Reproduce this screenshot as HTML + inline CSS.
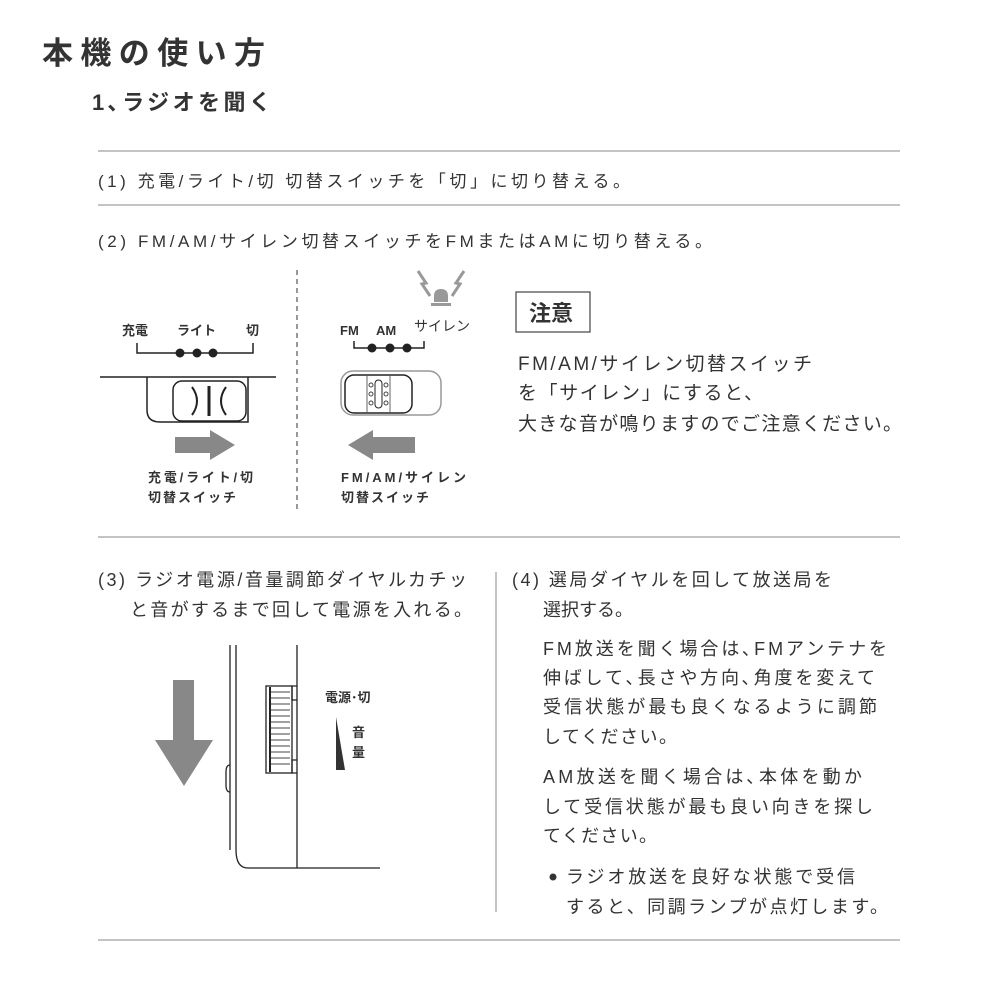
<!DOCTYPE html>
<html><head><meta charset="utf-8"><style>
html,body{margin:0;padding:0;background:#fff;}
svg{display:block;}
text{font-family:"Liberation Sans","Noto Sans CJK JP",sans-serif;fill:#333;}
</style></head><body>
<svg width="1000" height="1000" viewBox="0 0 1000 1000" xmlns="http://www.w3.org/2000/svg">
<text x="42" y="64" font-size="31" font-weight="bold" textLength="223" fill="#222">本機の使い方</text>
<text x="92" y="110" font-size="22" font-weight="bold" textLength="179" fill="#222">1､ラジオを聞く</text>
<g stroke="#888" stroke-width="1">
<line x1="98" y1="151" x2="900" y2="151"/>
<line x1="98" y1="205" x2="900" y2="205"/>
<line x1="98" y1="537" x2="900" y2="537"/>
<line x1="98" y1="940" x2="900" y2="940"/>
<line x1="496" y1="572" x2="496" y2="912"/>
</g>
<line x1="297" y1="270" x2="297" y2="512" stroke="#777" stroke-width="1.5" stroke-dasharray="5,4"/>
<g font-size="17">
<text x="98" y="187" textLength="532">(1) 充電/ライト/切  切替スイッチを「切」に切り替える。</text>
<text x="98" y="247" textLength="614">(2) FM/AM/サイレン切替スイッチをFMまたはAMに切り替える。</text>
</g>
<g font-size="13" font-weight="bold" fill="#222">
<text x="122" y="335">充電</text><text x="177" y="335">ライト</text><text x="246" y="335">切</text>
<text x="148" y="482" textLength="105">充電/ライト/切</text>
<text x="148" y="502" textLength="88">切替スイッチ</text>
<text x="340" y="335">FM</text><text x="376" y="335">AM</text>
<text x="341" y="482" textLength="125">FM/AM/サイレン</text>
<text x="341" y="502" textLength="88">切替スイッチ</text>
</g>
<text x="414" y="331" font-size="14" fill="#999">サイレン</text>
<g stroke="#222" stroke-width="1.5" fill="none">
<polyline points="137,343 137,353 253,353 253,343"/>
<polyline points="354,341 354,348 424,348 424,341"/>
<line x1="100" y1="377" x2="276" y2="377"/>
<path d="M147,377 V410 Q147,422 160,422 H248 V377"/>
<rect x="173" y="381" width="73" height="40" rx="9"/>
<path d="M192,387 Q202,401 192,415" stroke-width="2"/>
<line x1="209" y1="386" x2="209" y2="416" stroke-width="3"/>
<path d="M226,387 Q216,401 226,415" stroke-width="2"/>
<rect x="341" y="371" width="100" height="44" rx="12" stroke="#999"/>
<rect x="345" y="375" width="67" height="38" rx="9"/>
<line x1="367" y1="376" x2="367" y2="412" stroke-width="1" stroke="#666"/>
<line x1="390" y1="376" x2="390" y2="412" stroke-width="1" stroke="#666"/>
<rect x="375" y="380" width="7" height="28" rx="3.5" stroke-width="1"/>
</g>
<g fill="#222"><circle cx="180" cy="353" r="4.5"/><circle cx="197" cy="353" r="4.5"/><circle cx="213" cy="353" r="4.5"/>
<circle cx="372" cy="348" r="4.5"/><circle cx="390" cy="348" r="4.5"/><circle cx="407" cy="348" r="4.5"/></g>
<g fill="none" stroke="#444" stroke-width="1"><circle cx="371" cy="385" r="2"/><circle cx="371" cy="394" r="2"/><circle cx="371" cy="403" r="2"/><circle cx="386" cy="385" r="2"/><circle cx="386" cy="394" r="2"/><circle cx="386" cy="403" r="2"/></g>
<!-- siren -->
<g fill="#999">
<path d="M434,302 V296 Q434,289 441,289 Q448,289 448,296 V302 Z"/>
<rect x="431" y="303" width="20" height="3"/>
</g>
<g fill="none" stroke="#999" stroke-width="3" stroke-linejoin="miter">
<polyline points="418,271 426,283 422,284 430,296"/>
<polyline points="464,271 456,283 460,284 452,296"/>
</g>
<!-- arrows -->
<g fill="#888">
<polygon points="175,437 210,437 210,430 235,445 210,460 210,453 175,453"/>
<polygon points="415,437 373,437 373,430 348,445 373,460 373,453 415,453"/>
<polygon points="173,680 194,680 194,740 213,740 184,786 155,740 173,740"/>
</g>
<rect x="516" y="292" width="74" height="40" fill="none" stroke="#444" stroke-width="1.2"/>
<text x="529" y="321" font-size="22" font-weight="bold" fill="#222">注意</text>
<g font-size="19">
<text x="518" y="370" textLength="294">FM/AM/サイレン切替スイッチ</text>
<text x="518" y="399" textLength="245">を「サイレン」にすると、</text>
<text x="518" y="430" textLength="384">大きな音が鳴りますのでご注意ください。</text>
</g>
<g font-size="18">
<text x="98" y="586" textLength="369">(3) ラジオ電源/音量調節ダイヤルカチッ</text>
<text x="130" y="616" textLength="342">と音がするまで回して電源を入れる。</text>
</g>
<g stroke="#222" stroke-width="1.3" fill="none">
<line x1="230" y1="645" x2="230" y2="850"/>
<path d="M236,645 V850 Q236,868 248,868 H380"/>
<line x1="297" y1="645" x2="297" y2="868"/>
<path d="M230,765 Q226,765 226,772 V785 Q226,792 230,792"/>
<path d="M297,686 H292 V700 H297 M297,760 H292 V773 H297"/>
<rect x="266" y="686" width="26" height="87"/>
</g>
<g stroke="#444" stroke-width="1">
<line x1="270" y1="692" x2="290" y2="692"/><line x1="270" y1="698" x2="290" y2="698"/><line x1="270" y1="704" x2="290" y2="704"/><line x1="270" y1="710" x2="290" y2="710"/><line x1="270" y1="716" x2="290" y2="716"/><line x1="270" y1="722" x2="290" y2="722"/><line x1="270" y1="728" x2="290" y2="728"/><line x1="270" y1="734" x2="290" y2="734"/><line x1="270" y1="740" x2="290" y2="740"/><line x1="270" y1="746" x2="290" y2="746"/><line x1="270" y1="752" x2="290" y2="752"/><line x1="270" y1="758" x2="290" y2="758"/><line x1="270" y1="764" x2="290" y2="764"/>
</g>
<line x1="270" y1="687" x2="270" y2="772" stroke="#222" stroke-width="2"/>
<polygon points="336,717 345,770 336,770" fill="#333"/>
<g font-size="13" font-weight="bold" fill="#222">
<text x="325" y="702">電源･切</text><text x="352" y="737">音</text><text x="352" y="757">量</text>
</g>
<g font-size="18">
<text x="512" y="586" textLength="320">(4) 選局ダイヤルを回して放送局を</text>
<text x="543" y="616" textLength="90">選択する。</text>
<text x="543" y="655" textLength="344">FM放送を聞く場合は､FMアンテナを</text>
<text x="543" y="684" textLength="332">伸ばして､長さや方向､角度を変えて</text>
<text x="543" y="713" textLength="334">受信状態が最も良くなるように調節</text>
<text x="543" y="743" textLength="134">してください。</text>
<text x="543" y="783" textLength="319">AM放送を聞く場合は､本体を動か</text>
<text x="543" y="813" textLength="330">して受信状態が最も良い向きを探し</text>
<text x="543" y="842" textLength="114">てください。</text>
<text x="566" y="883" textLength="289">ラジオ放送を良好な状態で受信</text>
<text x="566" y="913" textLength="322">すると、同調ランプが点灯します。</text>
</g>
<circle cx="553" cy="877" r="3.5" fill="#333"/>
</svg>
</body></html>
